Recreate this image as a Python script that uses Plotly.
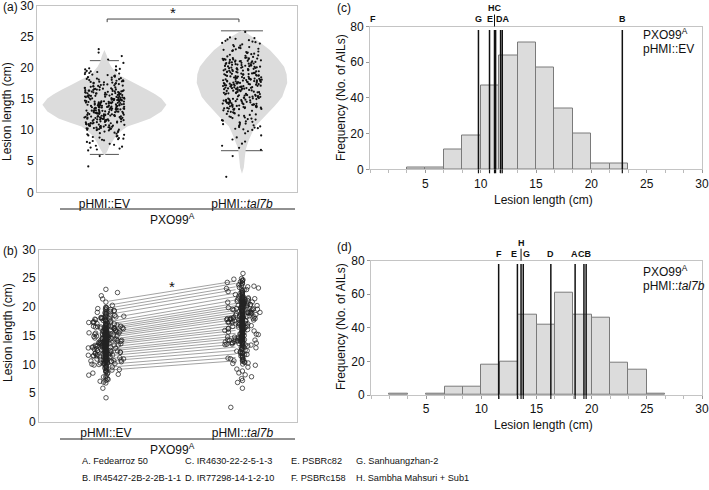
import math
import numpy as np
import plotly.graph_objects as go

W, H = 709, 490
FONT = "Liberation Sans, Arial, sans-serif"

# ------------------------------------------------------------------ data
bin_width = 5 / 3
# histogram counts per bin (bins start at 0, width 5/3 cm)
ev_counts = [0, 0, 1, 1, 11, 19, 47, 64, 71, 57, 34, 20, 3, 3, 0, 0, 0, 0]
tal_counts = [0, 1, 0, 1, 5, 5, 18, 20, 48, 42, 61, 48, 46, 19, 15, 1, 0, 0]

groups = ["pHMI::EV", "pHMI::<i>tal7b</i>"]
box_q1 = [11.7, 14.4]
box_median = [13.8, 17.3]
box_q3 = [15.7, 19.8]
box_low = [6.1, 6.7]
box_high = [21.2, 26.0]

# violin outline: lesion length and relative half-width (density)
ev_vio_y = [22.9, 22.0, 21.0, 20.2, 19.0, 18.1, 17.3, 16.5, 15.8, 15.1, 14.1,
            13.0, 11.9, 11.2, 10.6, 9.8, 9.0, 8.2, 7.4, 6.7, 6.0]
ev_vio_d = [0.0, 0.04, 0.07, 0.11, 0.21, 0.37, 0.53, 0.69, 0.82, 0.92, 1.0,
            0.92, 0.74, 0.55, 0.37, 0.26, 0.18, 0.13, 0.08, 0.05, 0.01]
tal_vio_y = [26.1, 25.5, 25.0, 24.0, 22.9, 21.5, 20.2, 19.0, 17.6, 16.5, 15.4,
             14.5, 13.8, 13.0, 12.2, 11.4, 10.6, 9.5, 8.4, 7.5, 6.8, 6.0, 5.0, 4.0, 3.0]
tal_vio_d = [0.0, 0.10, 0.18, 0.31, 0.45, 0.58, 0.68, 0.72, 0.73, 0.69, 0.65,
             0.58, 0.52, 0.44, 0.37, 0.29, 0.21, 0.16, 0.11, 0.08, 0.06, 0.05, 0.04, 0.03, 0.0]

# paired lines in (b)
pair_ev = [21.0, 20.3, 19.8, 19.3, 18.7, 18.0, 17.4, 17.0, 16.6, 16.3, 16.0, 15.6,
           15.3, 15.0, 14.7, 14.3, 14.0, 13.7, 13.4, 13.0, 12.6, 12.3, 11.9, 11.5,
           11.0, 10.6, 10.0, 9.5, 9.0]
pair_tal = [24.5, 24.1, 23.5, 23.0, 22.4, 21.8, 21.2, 20.6, 20.2, 19.8, 19.4, 19.0,
            18.6, 18.2, 17.8, 17.3, 16.8, 16.3, 15.9, 15.4, 14.9, 14.5, 14.0, 13.5,
            13.0, 12.4, 11.8, 11.2, 10.6]

cult_codes = ["A", "B", "C", "D", "E", "F", "G", "H"]
cult_names = ["Fedearroz 50", "IR45427-2B-2-2B-1-1", "IR4630-22-2-5-1-3",
              "IR77298-14-1-2-10", "PSBRc82", "PSBRc158", "Sanhuangzhan-2",
              "Sambha Mahsuri + Sub1"]
cult_ev = [11.95, 22.8, 11.35, 11.8, 10.8, 0.3, 9.8, 11.25]
cult_tal = [18.5, 19.5, 19.3, 16.3, 13.27, 11.57, 13.8, 13.6]

# ------------------------------------------------------------------ helpers
def px_x(p):
    return p / W


def px_y(p):
    return 1 - p / H


def expand(counts):
    vals = []
    for i, n in enumerate(counts):
        lo = i * bin_width
        for k in range(n):
            vals.append(lo + (k + 0.5) / n * bin_width)
    return np.array(vals)


def scatter_pos(n, seed):
    # deterministic, irregular jitter positions in [0, 1)
    i = np.arange(n) + seed
    return np.abs(np.sin(i * 12.9898 + seed * 78.233) * 43758.5453) % 1


ev_vals = expand(ev_counts)
tal_vals = expand(tal_counts)

# panel geometry (pixels)
A = dict(x0=37, x1=297, yt=6, yb=192.3)
B = dict(x0=39, x1=297, yt=249.5, yb=421.7)
C = dict(x0=370, x1=702, yt=26.5, yb=169.3)
D = dict(x0=371, x1=702, yt=260.7, yb=395)
XR = [-0.49, 1.40]
ppu_a = (A["x1"] - A["x0"]) / (XR[1] - XR[0])
ppu_b = (B["x1"] - B["x0"]) / (XR[1] - XR[0])

fig = go.Figure()

# ----------------------------------------------------------- panel (a)
MAXW = 62 / ppu_a
for gi, (vy, vd) in enumerate([(ev_vio_y, ev_vio_d), (tal_vio_y, tal_vio_d)]):
    xs = [gi - d * MAXW for d in vd] + [gi + d * MAXW for d in vd[::-1]]
    ys = list(vy) + list(vy[::-1])
    fig.add_trace(go.Scatter(x=xs, y=ys, fill="toself", fillcolor="#dcdcdc",
                             mode="lines", line=dict(width=0), xaxis="x", yaxis="y",
                             hoverinfo="skip", showlegend=False))

box_w = [33 / ppu_a, 42 / ppu_a]
wh_w = [0.88, 1.0]
for gi in range(2):
    fig.add_trace(go.Box(x=[gi], q1=[box_q1[gi]], median=[box_median[gi]], q3=[box_q3[gi]],
                         lowerfence=[box_low[gi]], upperfence=[box_high[gi]],
                         width=box_w[gi], whiskerwidth=wh_w[gi],
                         fillcolor="rgba(0,0,0,0)", line=dict(color="#555", width=1),
                         boxpoints=False, xaxis="x", yaxis="y", showlegend=False))

for gi, vals in enumerate([ev_vals, tal_vals]):
    u = scatter_pos(len(vals), 3 + gi)
    off = (2 * u - 1) * 20 / ppu_a
    fig.add_trace(go.Scatter(x=gi + off, y=vals, mode="markers",
                             marker=dict(size=2.2, color="#111"),
                             xaxis="x", yaxis="y", showlegend=False))

# ----------------------------------------------------------- panel (b)
lx, ly = [], []
for a, b in zip(pair_ev, pair_tal):
    lx += [0.02, 0.95, None]
    ly += [a, b, None]
fig.add_trace(go.Scatter(x=lx, y=ly, mode="lines", line=dict(color="#8a8a8a", width=0.8),
                         xaxis="x2", yaxis="y2", showlegend=False))
for gi, vals in enumerate([ev_vals, tal_vals]):
    u = scatter_pos(len(vals), 11 + gi)
    s = 2 * u - 1
    off = np.sign(s) * np.abs(s) ** 4 * 18 / ppu_b
    fig.add_trace(go.Scatter(x=gi + off, y=vals, mode="markers",
                             marker=dict(symbol="circle-open", size=4.5,
                                         color="rgba(35,35,35,0.75)", line=dict(width=1)),
                             xaxis="x2", yaxis="y2", showlegend=False))

# ----------------------------------------------------------- panels (c) (d)
centers = [(i + 0.5) * bin_width for i in range(len(ev_counts))]
for counts, xa, ya in [(ev_counts, "x3", "y3"), (tal_counts, "x4", "y4")]:
    cx = [c for c, n in zip(centers, counts) if n > 0]
    cy = [n for n in counts if n > 0]
    fig.add_trace(go.Bar(x=cx, y=cy, width=bin_width,
                         marker=dict(color="#dcdcdc", line=dict(color="#7a7a7a", width=1)),
                         xaxis=xa, yaxis=ya, showlegend=False))

shapes = []
annotations = []


def ann(**kw):
    kw.setdefault("showarrow", False)
    kw.setdefault("xanchor", "center")
    kw.setdefault("yanchor", "middle")
    annotations.append(kw)


def cult_marks(vals, xa, ya, groups_def, tall):
    for code, v in zip(cult_codes, vals):
        if v < 1:
            continue
        shapes.append(dict(type="line", xref=xa, yref=ya, x0=v, x1=v, y0=0, y1=78,
                           line=dict(color="#111", width=1.5)))
        shapes.append(dict(type="line", xref=xa, yref=ya + " domain", ysizemode="pixel",
                           yanchor=0, x0=v, x1=v, y0=-4, y1=0,
                           line=dict(color="#111", width=1.2)))
    for text, members, row, shift in groups_def:
        xv = sum(vals[cult_codes.index(m)] for m in members) / len(members)
        ann(x=xv, y=1, xref=xa, yref=ya + " domain", text="<b>%s</b>" % text,
            yanchor="bottom", yshift=(0 if row == 1 else 11), xshift=shift,
            font=dict(size=9, family=FONT, color="#111"))
    v = vals[cult_codes.index(tall)]
    shapes.append(dict(type="line", xref=xa, yref=ya + " domain", ysizemode="pixel",
                       yanchor=1, x0=v, x1=v, y0=0, y1=12,
                       line=dict(color="#111", width=1)))


cult_marks(cult_ev, "x3", "y3",
           [("F", ["F"], 1, 0), ("G", ["G"], 1, 0), ("E", ["E"], 1, 0),
            ("DA", ["D", "A"], 1, 2), ("B", ["B"], 1, 0), ("HC", ["H", "C"], 2, 0)], "H")
cult_marks(cult_tal, "x4", "y4",
           [("F", ["F"], 1, 0), ("E", ["E"], 1, -3), ("G", ["G"], 1, 3),
            ("D", ["D"], 1, 0), ("A", ["A"], 1, -1), ("CB", ["C", "B"], 1, 0),
            ("H", ["H"], 2, 0)], "H")

# significance bracket in (a)
shapes += [
    dict(type="line", xref="x", yref="y", x0=0.02, x1=0.978, y0=27.9, y1=27.9,
         line=dict(color="#444", width=1)),
    dict(type="line", xref="x", yref="y", x0=0.02, x1=0.02, y0=27.9, y1=27.4,
         line=dict(color="#444", width=1)),
    dict(type="line", xref="x", yref="y", x0=0.978, x1=0.978, y0=27.9, y1=27.4,
         line=dict(color="#444", width=1)),
]
ann(x=0.5, y=28.9, xref="x", yref="y", text="*", font=dict(size=15, family=FONT, color="#111"))
ann(x=0.484, y=23.6, xref="x2", yref="y2", text="*", font=dict(size=15, family=FONT, color="#111"))

# group lines / PXO99A under (a) and (b)
for yl, yt in [(209, 219.5), (439, 448.5)]:
    shapes.append(dict(type="line", xref="paper", yref="paper", x0=px_x(60), x1=px_x(295),
                       y0=px_y(yl), y1=px_y(yl), line=dict(color="#222", width=1)))
    ann(x=px_x(172.5), y=px_y(yt), xref="paper", yref="paper",
        text="PXO99<sup>A</sup>", font=dict(size=12, family=FONT, color="#111"))

# panel letters
for t, x, y in [("(a)", 0.5, 7.5), ("(b)", 0.5, 251), ("(c)", 335, 8), ("(d)", 335, 247)]:
    ann(x=px_x(x), y=px_y(y), xref="paper", yref="paper", text=t, xanchor="left",
        font=dict(size=12, family=FONT, color="#111"))

# axis titles
for t, x, y in [("Lesion length (cm)", 7, 112), ("Lesion length (cm)", 8, 333),
                ("Frequency (No. of AILs)", 341, 98), ("Frequency (No. of AILs)", 341, 327)]:
    ann(x=px_x(x), y=px_y(y), xref="paper", yref="paper", text=t, textangle=-90,
        font=dict(size=12, family=FONT, color="#111"))
for y in [200, 425]:
    ann(x=px_x(543), y=px_y(y), xref="paper", yref="paper",
        text="Lesion length (cm)", font=dict(size=12, family=FONT, color="#111"))

# inset labels
for t, y in [("PXO99<sup>A</sup>", 33.5), ("pHMI::EV", 49.5),
             ("PXO99<sup>A</sup>", 271), ("pHMI::<i>tal7b</i>", 286)]:
    ann(x=px_x(641), y=px_y(y), xref="paper", yref="paper", text=t, xanchor="left",
        font=dict(size=12, family=FONT, color="#111"))

# cultivar legend
col_x = [80, 183, 289, 354]
row_y = [461, 478]
for i, (code, name) in enumerate(zip(cult_codes, cult_names)):
    col, row = i // 2, i % 2
    ann(x=px_x(col_x[col]), y=px_y(row_y[row]), xref="paper", yref="paper",
        text="%s. %s" % (code, name), xanchor="left",
        font=dict(size=9.2, family=FONT, color="#111"))

# ------------------------------------------------------------------ axes
frame = dict(showline=True, mirror=True, linecolor="#c4c4c4", linewidth=1,
             showgrid=False, zeroline=False, automargin=False, ticklabeloverflow="allow",
             tickfont=dict(size=12, family=FONT, color="#111"))


def dom_x(P):
    return [px_x(P["x0"]), px_x(P["x1"])]


def dom_y(P):
    return [px_y(P["yb"]), px_y(P["yt"])]


lay = dict(
    width=W, height=H, margin=dict(l=0, r=0, t=0, b=0, pad=0, autoexpand=False),
    paper_bgcolor="white", plot_bgcolor="white", showlegend=False,
    font=dict(family=FONT, color="#111"), bargap=0,
    xaxis=dict(domain=dom_x(A), range=XR, type="linear", tickvals=[0, 1], ticktext=groups,
               ticks="", anchor="y", **frame),
    yaxis=dict(domain=dom_y(A), range=[0, 30], tickvals=list(range(0, 31, 5)), ticks="",
               anchor="x", **frame),
    xaxis2=dict(domain=dom_x(B), range=XR, type="linear", tickvals=[0, 1], ticktext=groups,
                ticks="", anchor="y2", **frame),
    yaxis2=dict(domain=dom_y(B), range=[0, 30], tickvals=list(range(0, 31, 5)), ticks="",
                anchor="x2", **frame),
)
for k, P in [("3", C), ("4", D)]:
    lay["xaxis" + k] = dict(domain=dom_x(P), range=[0, 30], tickvals=[5, 10, 15, 20, 25, 30],
                            ticks="outside", ticklen=3, tickcolor="#999", anchor="y" + k,
                            minor=dict(dtick=5 / 3, tick0=0, ticks="outside", ticklen=3,
                                       tickcolor="#bbb"), **frame)
    lay["yaxis" + k] = dict(domain=dom_y(P), range=[0, 80], tickvals=[0, 20, 40, 60, 80],
                            ticks="outside", ticklen=3, tickcolor="#999", anchor="x" + k, **frame)

fig.update_layout(**lay)
fig.update_layout(shapes=shapes, annotations=annotations)
fig.write_html("out.html", config={"displayModeBar": False},
               post_script="document.body.style.margin='0';document.body.style.overflow='hidden';")
